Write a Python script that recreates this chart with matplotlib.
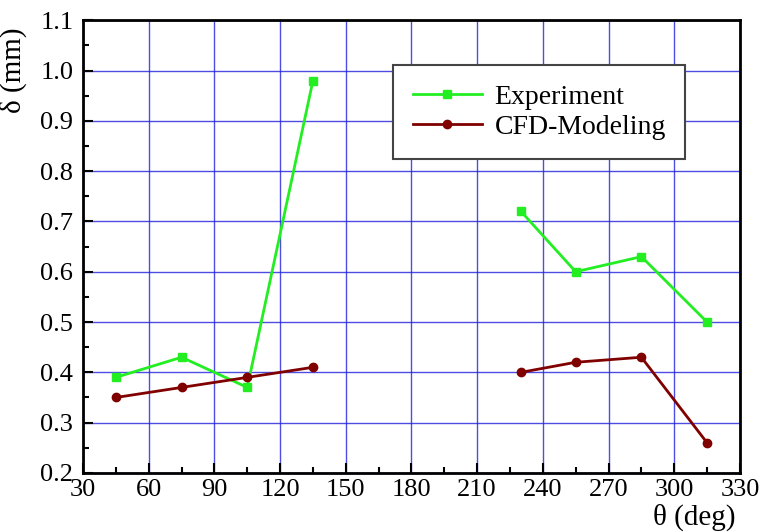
import numpy as np
import matplotlib
matplotlib.use("Agg")
import matplotlib.pyplot as plt
from matplotlib.ticker import MultipleLocator

theta = [45, 75, 105, 135, np.nan, 230, 255, 285, 315]
experiment = [0.39, 0.43, 0.37, 0.98, np.nan, 0.72, 0.60, 0.63, 0.50]
cfd = [0.35, 0.37, 0.39, 0.41, np.nan, 0.40, 0.42, 0.43, 0.26]

plt.rcParams['font.family'] = ['Liberation Serif', 'DejaVu Serif']

fig = plt.figure(figsize=(7.62, 5.32), dpi=100)
ax = fig.add_axes([0.109, 0.111, 0.862, 0.851])

ax.plot(theta, experiment, color='#22ee22', lw=2, marker='s', ms=6,
        label='Experiment', zorder=3)
ax.plot(theta, cfd, color='#800000', lw=2, marker='o', ms=6,
        label='CFD-Modeling', zorder=3)

ax.set_xlim(30, 330)
ax.set_ylim(0.2, 1.1)
ax.xaxis.set_major_locator(MultipleLocator(30))
ax.xaxis.set_minor_locator(MultipleLocator(15))
ax.yaxis.set_major_locator(MultipleLocator(0.1))
ax.yaxis.set_minor_locator(MultipleLocator(0.05))
ax.yaxis.set_major_formatter(matplotlib.ticker.FormatStrFormatter('%.1f'))
ax.grid(True, which='major', color='#2020dd', lw=1, alpha=0.8)
ax.tick_params(which='both', direction='in', labelsize=19, width=1.5,
               color='black')
ax.tick_params(which='major', length=7, pad=7)
ax.tick_params(axis='x', which='major', pad=4)
ax.tick_params(which='minor', length=4)
for s in ax.spines.values():
    s.set_linewidth(2)
    s.set_zorder(4)

ax.set_xlabel('θ (deg)', fontsize=21)
ax.xaxis.set_label_coords(0.93, -0.068)
ax.set_ylabel('δ (mm)', fontsize=21)
ax.yaxis.set_label_coords(-0.085, 0.89)

leg = ax.legend(loc='upper left', bbox_to_anchor=(0.472, 0.691, 0.444, 0.21),
                mode='expand', fontsize=20,
                frameon=True, fancybox=False, edgecolor='#444444',
                framealpha=1, handlelength=2.5, handletextpad=0.45,
                borderpad=0.7, labelspacing=0.15, borderaxespad=0)
leg.get_frame().set_linewidth(1.5)
leg.set_zorder(5)

fig.savefig('out.png', dpi=100)
